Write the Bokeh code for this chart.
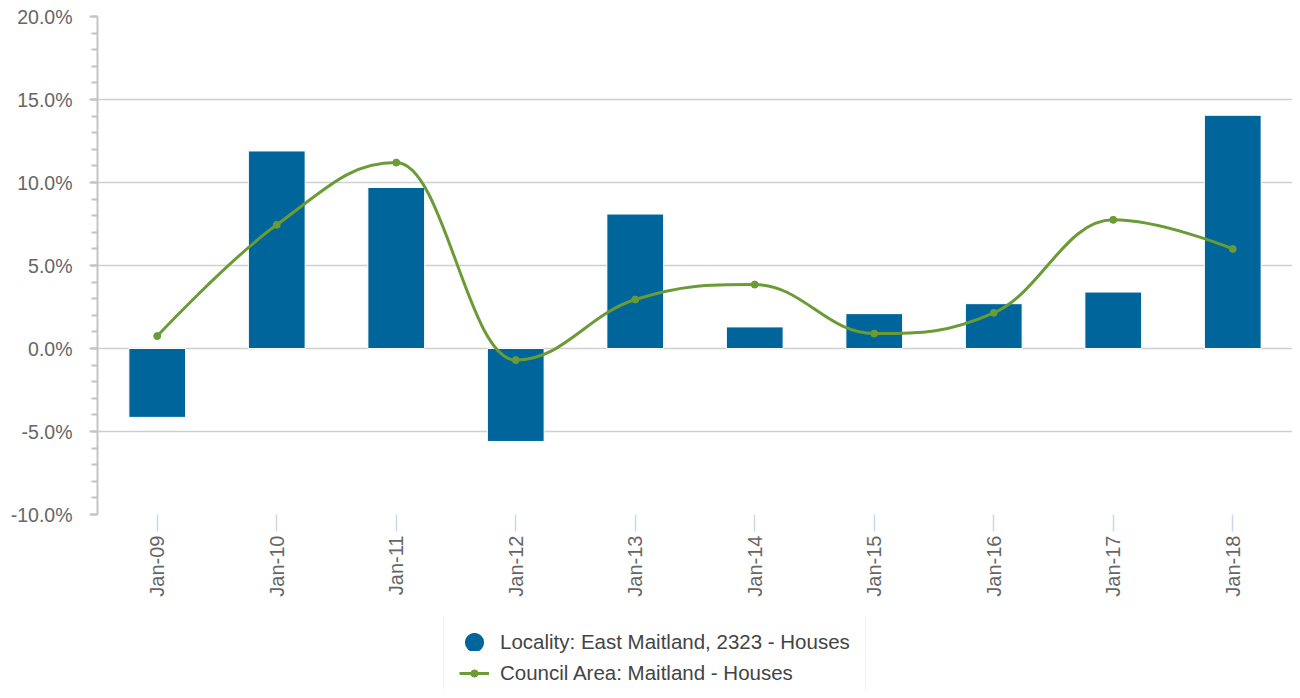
import math
from bokeh.plotting import figure
from bokeh.layouts import column
from bokeh.models import (FactorRange, Range1d, FixedTicker, PrintfTickFormatter,
                          Legend, LegendItem)
from bokeh.embed import file_html
from bokeh.resources import INLINE

# ---- data ----
categories = ["Jan-09", "Jan-10", "Jan-11", "Jan-12", "Jan-13",
              "Jan-14", "Jan-15", "Jan-16", "Jan-17", "Jan-18"]
locality_houses = [-4.15, 11.9, 9.7, -5.6, 8.1, 1.3, 2.1, 2.7, 3.4, 14.05]
council_houses = [0.75, 7.45, 11.2, -0.7, 2.95, 3.85, 0.9, 2.15, 7.75, 6.0]
y_major_ticks = [-10, -5, 0, 5, 10, 15, 20]
y_minor_ticks = list(range(-10, 21))
series_names = ["Locality: East Maitland, 2323 - Houses", "Council Area: Maitland - Houses"]

BLUE = "#00659a"
GREEN = "#6a9b35"
FONT = "Liberation Sans"

p = figure(width=1292, height=616, x_range=FactorRange(*categories, range_padding=0),
           y_range=Range1d(-10, 20), output_backend="svg", toolbar_location=None,
           min_border_left=97, min_border_right=0, min_border_top=16, min_border_bottom=102)
p.outline_line_color = None
p.background_fill_color = "white"

# bars
p.vbar(x=categories, top=locality_houses, width=0.475, fill_color=BLUE,
       line_color="white", line_width=1)

# spline (Highcharts-style bezier control points) through the series
xs = [i + 0.5 for i in range(len(categories))]
ys = council_houses
smoothing = 1.5
denom = smoothing + 1
n = len(xs)
left = [None] * n
right = [None] * n
for i in range(1, n - 1):
    px, py = xs[i], ys[i]
    lx, ly = xs[i - 1], ys[i - 1]
    nx, ny = xs[i + 1], ys[i + 1]
    lcx = (smoothing * px + lx) / denom
    lcy = (smoothing * py + ly) / denom
    rcx = (smoothing * px + nx) / denom
    rcy = (smoothing * py + ny) / denom
    corr = 0.0
    if rcx != lcx:
        corr = (rcy - lcy) * (rcx - px) / (rcx - lcx) + py - rcy
    lcy += corr
    rcy += corr
    if lcy > ly and lcy > py:
        lcy = max(ly, py); rcy = 2 * py - lcy
    elif lcy < ly and lcy < py:
        lcy = min(ly, py); rcy = 2 * py - lcy
    if rcy > ny and rcy > py:
        rcy = max(ny, py); lcy = 2 * py - rcy
    elif rcy < ny and rcy < py:
        rcy = min(ny, py); lcy = 2 * py - rcy
    left[i] = (lcx, lcy)
    right[i] = (rcx, rcy)

bx0, by0, bx1, by1, bcx0, bcy0, bcx1, bcy1 = ([] for _ in range(8))
for i in range(1, n):
    bx0.append(xs[i - 1]); by0.append(ys[i - 1])
    bx1.append(xs[i]); by1.append(ys[i])
    c0 = right[i - 1] if right[i - 1] else (xs[i - 1], ys[i - 1])
    c1 = left[i] if left[i] else (xs[i], ys[i])
    bcx0.append(c0[0]); bcy0.append(c0[1])
    bcx1.append(c1[0]); bcy1.append(c1[1])

p.bezier(x0=bx0, y0=by0, x1=bx1, y1=by1, cx0=bcx0, cy0=bcy0, cx1=bcx1, cy1=bcy1,
         line_color=GREEN, line_width=3)
p.scatter(x=categories, y=council_houses, marker="circle", size=7,
          fill_color=GREEN, line_color=GREEN)

# grid
p.xgrid.grid_line_color = None
p.ygrid.grid_line_color = "#cfcfcf"
p.ygrid.grid_line_width = 1.5
p.ygrid.ticker = FixedTicker(ticks=y_major_ticks)

# y axis
p.yaxis.ticker = FixedTicker(ticks=y_major_ticks, minor_ticks=y_minor_ticks)
p.yaxis.formatter = PrintfTickFormatter(format="%.1f%%")
p.yaxis.axis_line_color = "#c4c4c4"
p.yaxis.axis_line_width = 2
p.yaxis.major_tick_line_color = "#c4c4c4"
p.yaxis.major_tick_line_width = 2
p.yaxis.major_tick_out = 8
p.yaxis.major_tick_in = 0
p.yaxis.minor_tick_line_color = "#c4c4c4"
p.yaxis.minor_tick_line_width = 2
p.yaxis.minor_tick_out = 6
p.yaxis.minor_tick_in = 0
p.yaxis.major_label_standoff = 17
p.yaxis.major_label_text_font = FONT
p.yaxis.major_label_text_font_size = "19.5px"
p.yaxis.major_label_text_color = "#666666"

# x axis
p.xaxis.axis_line_color = None
p.xaxis.major_tick_line_color = "#ccd6eb"
p.xaxis.major_tick_line_width = 1.5
p.xaxis.major_tick_out = 17
p.xaxis.major_tick_in = 0
p.xaxis.major_label_orientation = math.pi / 2
p.xaxis.major_label_standoff = 4
p.xaxis.major_label_text_font = FONT
p.xaxis.major_label_text_font_size = "20px"
p.xaxis.major_label_text_color = "#666666"

# ---- legend strip (separate figure below the chart) ----
lg = figure(width=1292, height=74, x_range=Range1d(0, 1), y_range=Range1d(0, 1),
            output_backend="svg", toolbar_location=None, x_axis_type=None, y_axis_type=None,
            min_border_left=0, min_border_right=0, min_border_top=0, min_border_bottom=0)
lg.outline_line_color = None
lg.xgrid.grid_line_color = None
lg.ygrid.grid_line_color = None

# legend proxy glyphs (kept outside the visible range)
leg_bar = lg.scatter(x=[-5], y=[-5], marker="circle", size=7, fill_color=BLUE,
                     line_color=BLUE, line_width=12)
leg_line = lg.line(x=[-5, -4], y=[-5, -5], line_color=GREEN, line_width=3)
leg_dot = lg.scatter(x=[-5], y=[-5], marker="circle", size=7, fill_color=GREEN,
                     line_color=GREEN)

legend = Legend(items=[
    LegendItem(label=series_names[0], renderers=[leg_bar]),
    LegendItem(label=series_names[1], renderers=[leg_line, leg_dot]),
], location=(346, -11), orientation="vertical", glyph_width=30, glyph_height=18,
    label_height=20, label_standoff=11, padding=15, spacing=7, margin=0,
    border_line_color="#e8e8e8", border_line_width=1.5, background_fill_color="white",
    label_text_font=FONT, label_text_font_size="20.5px", label_text_color="#444444")
lg.add_layout(legend)

layout = column(p, lg, spacing=0)
open("out.html", "w").write(file_html(layout, INLINE))
